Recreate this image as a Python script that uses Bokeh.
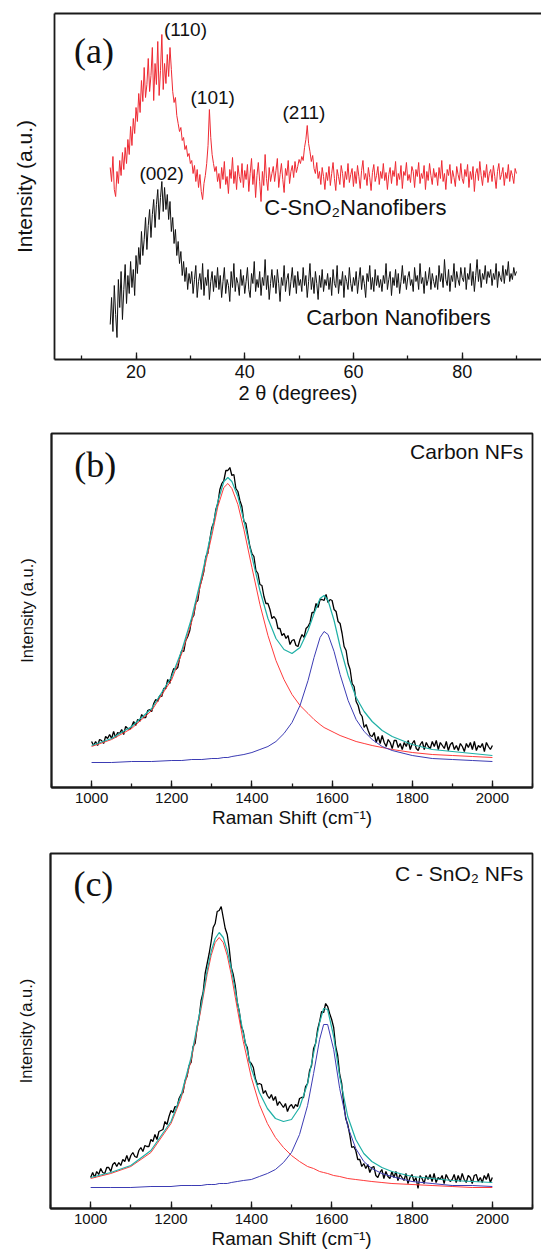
import numpy as np
from bokeh.plotting import figure
from bokeh.models import Label, LinearAxis, FixedTicker, SingleIntervalTicker, Range1d
from bokeh.layouts import column
from bokeh.embed import file_html
from bokeh.resources import INLINE

# ---------------- (a) XRD data (2-theta step 0.25, 15.25 .. 90.0) ----------------
xrd_two_theta = np.arange(15.25, 90.01, 0.25)
xrd_c_sno2 = [
    192, 178, 203, 170, 163, 188, 176, 199, 184, 207, 190, 212, 196, 220, 205, 233, 214, 241, 226, 252,
    238, 266, 247, 279, 258, 292, 262, 275, 301, 268, 284, 312, 259, 296, 275, 318, 264, 289, 325, 270,
    296, 276, 305, 283, 312, 290, 268, 257, 262, 244, 236, 228, 232, 219, 222, 210, 214, 203, 206, 196,
    199, 186, 194, 178, 190, 172, 185, 168, 160, 176, 184, 196, 214, 250, 222, 205, 196, 188, 193, 178,
    186, 171, 192, 180, 198, 175, 183, 166, 190, 181, 202, 176, 188, 170, 194, 183, 177, 196, 172, 189,
    180, 195, 168, 186, 201, 175, 190, 162, 184, 197, 178, 158, 188, 174, 205, 181, 169, 192, 178, 186,
    193, 178, 189, 201, 172, 185, 196, 180, 167, 191, 184, 199, 176, 188, 194, 182, 198, 187, 193, 200,
    196, 203, 199, 212, 220, 234, 216, 208, 198, 204, 191, 186, 197, 181, 188, 175, 192, 183, 170, 187,
    179, 193, 174, 186, 197, 181, 169, 190, 183, 175, 194, 186, 172, 188, 180, 196, 177, 185, 191, 173,
    188, 176, 194, 183, 171, 189, 199, 180, 186, 174, 192, 182, 169, 187, 195, 178, 184, 193, 175, 188,
    181, 196, 179, 187, 170, 185, 192, 176, 189, 183, 198, 174, 186, 180, 194, 171, 188, 184, 197, 179,
    185, 177, 193, 188, 172, 190, 183, 197, 176, 186, 181, 194, 170, 188, 179, 196, 184, 175, 191, 182,
    187, 174, 192, 181, 199, 178, 186, 170, 190, 184, 195, 176, 189, 182, 173, 193, 185, 179, 196, 181,
    176, 190, 183, 195, 172, 188, 180, 193, 168, 186, 191, 179, 198, 184, 174, 189, 182, 195, 177, 186,
    190, 178, 194, 183, 171, 188, 196, 180, 185, 192, 174, 187, 181, 195, 178, 189, 184, 176, 191, 186]
xrd_carbon = [
    35, 62, 28, 74, 45, 22, 80, 52, 88, 40, 70, 95, 56, 84, 66, 98, 72, 90, 64, 104,
    86, 112, 95, 128, 104, 120, 142, 110, 134, 150, 122, 145, 160, 132, 155, 170, 140, 162, 178, 148,
    172, 150, 165, 140, 158, 128, 142, 116, 130, 104, 118, 96, 108, 84, 98, 78, 92, 70, 86, 76,
    88, 66, 80, 94, 62, 78, 86, 70, 96, 64, 82, 74, 90, 60, 78, 88, 68, 84, 72, 92,
    70, 84, 62, 78, 92, 66, 80, 74, 58, 88, 72, 96, 68, 82, 76, 64, 90, 74, 84, 66,
    78, 92, 70, 62, 86, 76, 98, 68, 80, 72, 88, 64, 82, 74, 100, 70, 84, 60, 76, 90,
    72, 84, 66, 90, 76, 58, 82, 74, 94, 68, 80, 86, 64, 78, 92, 72, 84, 66, 88, 74,
    80, 68, 92, 74, 84, 62, 78, 96, 70, 82, 66, 88, 76, 60, 84, 72, 90, 68, 80, 74,
    86, 70, 82, 64, 90, 76, 72, 94, 66, 80, 74, 88, 62, 84, 78, 70, 92, 76, 68, 82,
    74, 88, 66, 80, 92, 70, 84, 76, 62, 86, 78, 94, 70, 82, 68, 90, 74, 84, 72, 80,
    68, 84, 76, 96, 70, 80, 88, 64, 82, 74, 90, 72, 86, 66, 78, 94, 76, 84, 70, 82,
    88, 74, 80, 68, 92, 78, 84, 70, 96, 76, 82, 66, 88, 74, 80, 92, 70, 86, 78, 72,
    84, 70, 94, 78, 86, 72, 100, 80, 74, 90, 68, 84, 78, 96, 72, 88, 80, 74, 92, 82,
    78, 92, 70, 86, 80, 96, 74, 88, 68, 84, 100, 78, 90, 72, 86, 80, 94, 76, 88, 82,
    90, 74, 86, 80, 96, 72, 88, 82, 78, 94, 76, 90, 84, 98, 78, 86, 80, 92, 84, 88]
xrd_peak_labels = ["(110)", "(101)", "(211)", "(002)"]
xrd_peak_x = [29.1, 34.1, 50.9, 24.7]
xrd_peak_y = [330, 262, 247, 186]

# ---------------- (b) Raman, carbon NFs (step 5 cm-1) ----------------
raman_x = np.arange(1000, 2001, 5)
raman_b = [
    46, 42, 46, 42, 48, 47, 44, 51, 49, 53, 49, 56, 50, 55, 54, 58, 53, 61, 59, 58,
    61, 66, 62, 68, 66, 73, 70, 70, 77, 78, 76, 84, 88, 86, 92, 91, 99, 99, 108, 104,
    113, 119, 118, 120, 130, 137, 136, 147, 151, 157, 169, 172, 185, 187, 201, 208, 216, 231, 234, 248,
    260, 265, 278, 284, 298, 304, 307, 317, 317, 320, 312, 313, 299, 296, 287, 281, 266, 264, 252, 241,
    234, 231, 217, 214, 203, 202, 191, 184, 184, 178, 169, 171, 168, 159, 159, 152, 154, 149, 152, 143,
    147, 148, 142, 141, 148, 153, 150, 159, 161, 165, 175, 175, 184, 180, 188, 188, 187, 193, 185, 188,
    187, 178, 176, 166, 164, 154, 141, 137, 124, 118, 104, 101, 86, 82, 74, 71, 60, 63, 57, 52,
    51, 55, 45, 51, 44, 52, 45, 41, 48, 45, 39, 47, 47, 40, 44, 38, 45, 41, 47, 38,
    44, 47, 39, 37, 43, 46, 38, 45, 41, 39, 46, 41, 47, 38, 45, 42, 39, 46, 37, 43,
    45, 38, 42, 37, 44, 41, 36, 44, 40, 45, 38, 46, 37, 42, 40, 44, 36, 45, 41, 38,
    42]
fit_x_b = [1000, 1050, 1100, 1150, 1200, 1225, 1250, 1275, 1300, 1315,
           1330, 1340, 1350, 1365, 1380, 1400, 1420, 1440, 1460, 1480,
           1500, 1520, 1540, 1555, 1570, 1580, 1590, 1605, 1620, 1640,
           1660, 1680, 1700, 1725, 1750, 1800, 1850, 1900, 1950, 2000]
fit_d_b = [41, 48, 59, 77, 108, 134, 166, 208, 252, 281,
           300, 304, 299, 283, 258, 220, 183, 152, 127, 108,
           93, 82, 74, 68, 63, 60, 58, 55, 52, 49,
           46, 44, 42, 40, 38, 35, 33, 32, 31, 30]
fit_g_b = [25, 25, 26, 26, 27, 27, 28, 28, 29, 29,
           30, 30, 31, 32, 33, 35, 38, 41, 46, 54,
           65, 82, 107, 130, 150, 156, 153, 136, 113, 87,
           68, 56, 48, 41, 37, 32, 29, 28, 27, 26]
fit_sum_b = [42, 49, 61, 79, 111, 137, 170, 212, 257, 286,
             306, 310, 306, 291, 267, 231, 197, 169, 149, 138,
             134, 140, 157, 174, 189, 192, 187, 167, 141, 112,
             90, 76, 66, 57, 51, 43, 38, 36, 34, 32]

# ---------------- (c) Raman, C-SnO2 NFs (step 5 cm-1) ----------------
raman_c = [
    31, 36, 31, 37, 34, 40, 36, 35, 41, 41, 37, 44, 46, 42, 46, 43, 49, 47, 53, 47,
    53, 56, 52, 51, 58, 61, 57, 63, 62, 62, 69, 67, 74, 69, 77, 78, 79, 87, 84, 92,
    98, 96, 102, 101, 110, 114, 116, 128, 132, 143, 146, 162, 165, 181, 191, 208, 216, 235, 245, 255,
    267, 281, 285, 297, 298, 302, 291, 280, 274, 260, 241, 234, 223, 206, 197, 182, 177, 165, 161, 147,
    145, 141, 130, 124, 125, 124, 115, 118, 113, 110, 114, 108, 112, 103, 107, 104, 101, 105, 97, 102,
    104, 100, 104, 102, 110, 111, 111, 122, 125, 138, 143, 160, 165, 179, 187, 197, 196, 205, 202, 195,
    189, 181, 162, 153, 134, 125, 105, 90, 84, 74, 61, 62, 58, 49, 49, 42, 45, 40, 44, 36,
    41, 42, 33, 31, 36, 39, 30, 37, 32, 30, 37, 31, 37, 28, 34, 31, 28, 35, 25, 31,
    34, 27, 31, 20, 33, 30, 25, 33, 29, 34, 27, 35, 26, 31, 29, 33, 25, 34, 30, 27,
    29, 34, 26, 33, 27, 35, 29, 26, 33, 31, 25, 33, 34, 27, 31, 26, 33, 29, 35, 26,
    31]
fit_x_c = [1000, 1050, 1100, 1150, 1200, 1225, 1250, 1275, 1290, 1300,
           1310, 1320, 1330, 1340, 1350, 1365, 1380, 1400, 1420, 1440,
           1460, 1480, 1500, 1520, 1540, 1555, 1570, 1580, 1590, 1605,
           1620, 1640, 1660, 1680, 1700, 1725, 1750, 1800, 1850, 1900,
           1950, 2000]
fit_d_c = [30, 35, 42, 56, 85, 110, 148, 200, 234, 253,
           266, 271, 266, 253, 234, 200, 167, 131, 104, 85,
           71, 61, 53, 47, 42, 40, 37, 36, 35, 33,
           32, 30, 29, 28, 27, 26, 25, 24, 23, 22,
           21, 21]
fit_g_c = [21, 21, 21, 22, 22, 23, 23, 23, 24, 24,
           24, 25, 25, 25, 26, 27, 28, 29, 32, 35,
           39, 46, 56, 74, 103, 135, 169, 184, 184, 159,
           120, 82, 60, 47, 40, 35, 32, 27, 25, 23,
           23, 22]
fit_sum_c = [31, 36, 43, 58, 87, 113, 151, 203, 238, 257,
             270, 276, 271, 258, 240, 207, 175, 140, 116, 100,
             90, 87, 89, 101, 125, 155, 186, 200, 199, 172,
             132, 92, 69, 55, 47, 41, 37, 32, 30, 28,
             27, 26]

SANS = "Liberation Sans"
SERIF = "Liberation Serif"
FRAME = "#1a1a1a"


def style(p, tick_size, xlabel, xlabel_size, ylabel, ylabel_size, ylabel_standoff, interval):
    p.frame_align = False
    p.xgrid.visible = False
    p.ygrid.visible = False
    p.background_fill_color = "white"
    p.border_fill_color = "white"
    xa = p.xaxis[0]
    xa.ticker = SingleIntervalTicker(interval=interval, num_minor_ticks=2)
    xa.major_tick_in = 7
    xa.major_tick_out = 0
    xa.minor_tick_in = 4
    xa.minor_tick_out = 0
    xa.major_tick_line_color = FRAME
    xa.minor_tick_line_color = FRAME
    xa.major_tick_line_width = 1.3
    xa.minor_tick_line_width = 1.3
    xa.axis_line_color = FRAME
    xa.axis_line_width = 1.8
    xa.major_label_text_font = SANS
    xa.major_label_text_font_size = tick_size
    xa.major_label_text_color = "#111"
    xa.major_label_standoff = 5
    xa.axis_label = xlabel
    xa.axis_label_text_font = SANS
    xa.axis_label_text_font_style = "normal"
    xa.axis_label_text_font_size = xlabel_size
    xa.axis_label_text_color = "#111"
    xa.axis_label_standoff = 1
    ya = p.yaxis[0]
    ya.ticker = FixedTicker(ticks=[])
    ya.major_tick_line_color = None
    ya.minor_tick_line_color = None
    ya.major_label_text_font_size = "0px"
    ya.axis_line_color = FRAME
    ya.axis_line_width = 1.8
    ya.axis_label = ylabel
    ya.axis_label_text_font = SANS
    ya.axis_label_text_font_style = "normal"
    ya.axis_label_text_font_size = ylabel_size
    ya.axis_label_text_color = "#111"
    ya.axis_label_standoff = ylabel_standoff


# ---------------- panel (a) ----------------
pa = figure(x_range=Range1d(5, 94.6), y_range=Range1d(0, 346),
            frame_width=487, frame_height=346,
            min_border_left=54, min_border_right=0, min_border_top=13, min_border_bottom=51,
            output_backend="svg", toolbar_location=None)
style(pa, "18px", "2 θ (degrees)", "20px", "Intensity (a.u.)", "21px", 19, 20)
pa.outline_line_color = None
top_axis = LinearAxis(ticker=FixedTicker(ticks=[]), axis_line_color=FRAME, axis_line_width=1.8,
                      major_tick_line_color=None, minor_tick_line_color=None,
                      major_label_text_font_size="0px")
pa.add_layout(top_axis, "above")

pa.line(xrd_two_theta, xrd_c_sno2, line_color="#ee2a33", line_width=1)
pa.line(xrd_two_theta, xrd_carbon, line_color="#111111", line_width=1)

for t, x, y in zip(xrd_peak_labels, xrd_peak_x, xrd_peak_y):
    pa.add_layout(Label(x=x, y=y, text=t, text_font=SANS, text_font_size="19px",
                        text_align="center", text_baseline="middle", text_color="#111"))
pa.add_layout(Label(x=43.6, y=152, text="C-SnO₂Nanofibers", text_font=SANS, text_font_size="22px",
                    text_align="left", text_baseline="middle", text_color="#111"))
pa.add_layout(Label(x=51.3, y=42, text="Carbon Nanofibers", text_font=SANS, text_font_size="22px",
                    text_align="left", text_baseline="middle", text_color="#111"))
pa.add_layout(Label(x=8.6, y=309, text="(a)", text_font=SERIF, text_font_size="36px",
                    text_align="left", text_baseline="middle", text_color="#111"))

# ---------------- panel (b) ----------------
pb = figure(x_range=Range1d(900, 2100), y_range=Range1d(0, 354),
            frame_width=481, frame_height=354,
            min_border_left=51, min_border_right=9, min_border_top=23, min_border_bottom=45,
            output_backend="svg", toolbar_location=None)
style(pb, "15px", "Raman Shift (cm⁻¹)", "19px", "Intensity (a.u.)", "16.5px", 16, 200)
pb.outline_line_color = FRAME
pb.outline_line_width = 1.8
pb.line(raman_x, raman_b, line_color="black", line_width=1.3)
pb.line(fit_x_b, fit_d_b, line_color="#ff3b3b", line_width=1)
pb.line(fit_x_b, fit_g_b, line_color="#3c3cb4", line_width=1)
pb.line(fit_x_b, fit_sum_b, line_color="#1fb0a6", line_width=1.2)
pb.add_layout(Label(x=957, y=323, text="(b)", text_font=SERIF, text_font_size="36px",
                    text_align="left", text_baseline="middle", text_color="#111"))
pb.add_layout(Label(x=2077, y=336, text="Carbon NFs", text_font=SANS, text_font_size="21px",
                    text_align="right", text_baseline="middle", text_color="#111"))

# ---------------- panel (c) ----------------
pc = figure(x_range=Range1d(900, 2100), y_range=Range1d(0, 355),
            frame_width=482, frame_height=355,
            min_border_left=50, min_border_right=9, min_border_top=21, min_border_bottom=45,
            output_backend="svg", toolbar_location=None)
style(pc, "15px", "Raman Shift (cm⁻¹)", "19px", "Intensity (a.u.)", "16.5px", 16, 200)
pc.outline_line_color = FRAME
pc.outline_line_width = 1.8
pc.line(raman_x, raman_c, line_color="black", line_width=1.3)
pc.line(fit_x_c, fit_d_c, line_color="#ff3b3b", line_width=1)
pc.line(fit_x_c, fit_g_c, line_color="#3c3cb4", line_width=1)
pc.line(fit_x_c, fit_sum_c, line_color="#1fb0a6", line_width=1.2)
pc.add_layout(Label(x=957, y=325, text="(c)", text_font=SERIF, text_font_size="36px",
                    text_align="left", text_baseline="middle", text_color="#111"))
pc.add_layout(Label(x=2077, y=335, text="C - SnO₂ NFs", text_font=SANS, text_font_size="21px",
                    text_align="right", text_baseline="middle", text_color="#111"))

layout = column(pa, pb, pc, spacing=0)
open("out.html", "w").write(file_html(layout, INLINE))
